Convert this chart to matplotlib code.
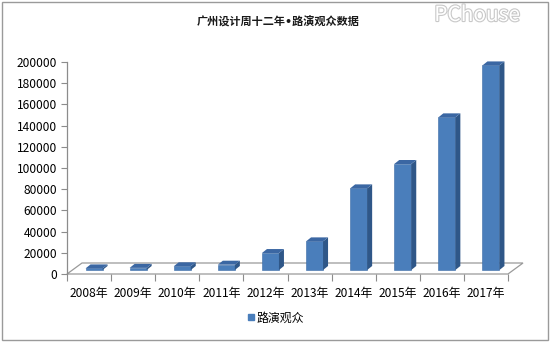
import matplotlib
matplotlib.use("Agg")
import matplotlib.pyplot as plt
from matplotlib.patches import Polygon, Rectangle
from matplotlib.lines import Line2D
import matplotlib.patheffects as pe

plt.rcParams['font.family'] = ['Noto Sans CJK SC', 'DejaVu Sans']

# data
years = ['2008年', '2009年', '2010年', '2011年', '2012年',
         '2013年', '2014年', '2015年', '2016年', '2017年']
audience = [1500, 2000, 3500, 5000, 16000, 27000, 77000, 100000, 144000, 193000]
y_ticks = [0, 20000, 40000, 60000, 80000, 100000, 120000, 140000, 160000, 180000, 200000]
title = '广州设计周十二年•路演观众数据'
series_name = '路演观众'

front_color = '#4a7ebb'
side_color = '#2f5788'
top_color = '#3b67a3'

fig = plt.figure(figsize=(5.5, 3.42), dpi=100)
fig.patch.set_facecolor('white')
# outer frame
fig.add_artist(Rectangle((0.004, 0.006), 0.992, 0.988, transform=fig.transFigure,
                         fill=False, edgecolor='#9a9a9a', linewidth=1.0))

ax = fig.add_axes([67 / 550, 1 - 274 / 342, 441 / 550, 212 / 342])
ax.set_xlim(-0.5, len(years) - 0.5)
ax.set_ylim(0, 200000)

# pixel -> data conversion for the fake 3D depth
px_x = 1 / 44.1
px_y = 200000 / 212

# floor
fdx, fdy = 15 * px_x, 11 * px_y
floor = Polygon([(-0.5, 0), (-0.5 + fdx, fdy), (len(years) - 0.5 + fdx, fdy),
                 (len(years) - 0.5, 0)], closed=True, facecolor='white',
                edgecolor='#9a9a9a', linewidth=0.9, clip_on=False, zorder=1)
ax.add_patch(floor)

# bars with side and top faces
base = 4 * px_y
width = 17 * px_x
shift = 5 * px_x
dx, dy = 5 * px_x, 4 * px_y
xs = [i + shift for i in range(len(years))]
bars = ax.bar(xs, audience, width=width, bottom=base, color=front_color,
              edgecolor='#3a6aa5', linewidth=0.4, zorder=3, label=series_name)
for b in bars:
    x0 = b.get_x()
    x1 = x0 + b.get_width()
    y0 = b.get_y()
    y1 = y0 + b.get_height()
    ax.add_patch(Polygon([(x1, y0), (x1 + dx, y0 + dy), (x1 + dx, y1 + dy), (x1, y1)],
                         closed=True, facecolor=side_color, edgecolor='none',
                         zorder=3, clip_on=False))
    ax.add_patch(Polygon([(x0, y1), (x0 + dx, y1 + dy), (x1 + dx, y1 + dy), (x1, y1)],
                         closed=True, facecolor=top_color, edgecolor='none',
                         zorder=3, clip_on=False))

# axes styling
for s in ['top', 'right', 'bottom']:
    ax.spines[s].set_visible(False)
ax.spines['left'].set_color('#8c8c8c')
ax.spines['left'].set_linewidth(0.9)
ax.set_yticks(y_ticks)
ax.set_yticklabels([str(v) for v in y_ticks])
ax.tick_params(axis='y', direction='out', length=4, width=0.8, color='#8c8c8c',
               labelsize=8.6, pad=3)

ax.set_xticks([i - 0.5 for i in range(len(years) + 1)])
ax.set_xticklabels([])
ax.tick_params(axis='x', which='major', direction='out', length=5, width=0.8,
               color='#8c8c8c')
ax.set_xticks(range(len(years)), minor=True)
ax.set_xticklabels(years, minor=True)
ax.tick_params(axis='x', which='minor', length=0, labelsize=8.6, pad=9)

fig.text(0.505, 1 - 22 / 342, title, ha='center', va='center',
         fontsize=8, fontweight='bold', color='#1a1a1a',
         family=['DejaVu Sans', 'Noto Sans CJK SC'])

# watermark
fig.text(520 / 550, 1 - 15 / 342, 'PChouse', ha='right', va='center', fontsize=15,
         color='white', style='italic',
         path_effects=[pe.withStroke(linewidth=1.6, foreground='#c8c8c8')])

handle = Line2D([], [], marker='s', linestyle='none', markersize=5,
                markerfacecolor=front_color, markeredgecolor=front_color)
fig.legend([handle], [series_name], loc='center', bbox_to_anchor=(0.5, 1 - 318 / 342),
           frameon=False, fontsize=8.6, handletextpad=0.1, handlelength=0.8)

fig.savefig('out.png', dpi=100, facecolor='white')
